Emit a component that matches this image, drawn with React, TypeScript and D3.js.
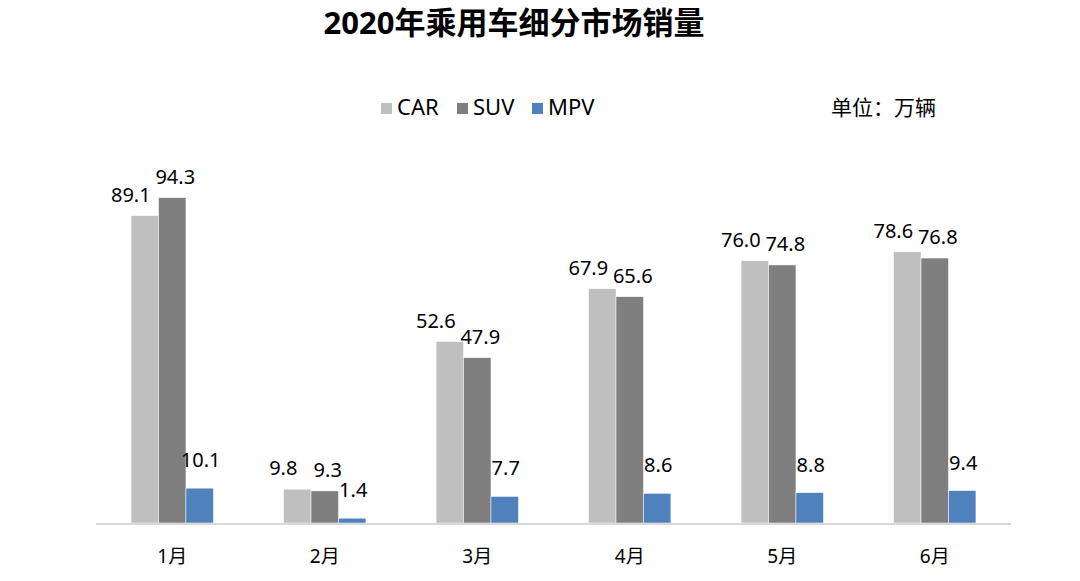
import React, { useEffect, useRef } from 'react';
import * as d3 from 'd3';

const months = ['1月', '2月', '3月', '4月', '5月', '6月'];
const seriesNames = ['CAR', 'SUV', 'MPV'];
const carValues = [89.1, 9.8, 52.6, 67.9, 76.0, 78.6];
const suvValues = [94.3, 9.3, 47.9, 65.6, 74.8, 76.8];
const mpvValues = [10.1, 1.4, 7.7, 8.6, 8.8, 9.4];
const colors = ['#bfbfbf', '#7f7f7f', '#4f81bd'];

const App = () => {
    const ref = useRef<SVGSVGElement>(null);
    const width = 1080;
    const height = 581;

    useEffect(() => {
        const svg = d3.select(ref.current);
        svg.selectAll('*').remove();
        const font = '"Noto Sans", "Noto Sans CJK SC", sans-serif';

        const x = d3.scaleBand().domain(months).range([96, 1011]).paddingInner(0.46).paddingOuter(0.23);
        const x1 = d3.scaleBand().domain(seriesNames).range([0, x.bandwidth()]);
        const y = d3.scaleLinear().domain([0, 100]).range([523, 178]);

        const values = [carValues, suvValues, mpvValues];
        // label nudges, the original has labels shifted by hand
        const labelDx = [-14, 3, 1];
        const labelDy = [-14, -14, -21];

        svg.append('text')
            .attr('x', 514)
            .attr('y', 34)
            .attr('text-anchor', 'middle')
            .style('font', `bold 31px ${font}`)
            .attr('fill', '#000')
            .text('2020年乘用车细分市场销量');

        // legend
        const legendX = [381, 457, 532];
        const legend = svg.append('g');
        seriesNames.forEach((name, i) => {
            legend.append('rect')
                .attr('x', legendX[i])
                .attr('y', 103)
                .attr('width', 11)
                .attr('height', 11)
                .attr('fill', colors[i]);
            legend.append('text')
                .attr('x', legendX[i] + 16)
                .attr('y', 115)
                .style('font', `22px ${font}`)
                .attr('fill', '#000')
                .text(name);
        });
        svg.append('text')
            .attr('x', 831)
            .attr('y', 115)
            .style('font', `21px ${font}`)
            .attr('fill', '#000')
            .text('单位：万辆');

        const groups = svg.append('g')
            .selectAll('g')
            .data(months)
            .enter()
            .append('g')
            .attr('transform', d => `translate(${x(d)},0)`);

        seriesNames.forEach((name, s) => {
            groups.append('rect')
                .attr('x', () => x1(name))
                .attr('y', (d, i) => y(values[s][i]))
                .attr('width', x1.bandwidth())
                .attr('height', (d, i) => y(0) - y(values[s][i]))
                .attr('fill', colors[s])
                .attr('stroke', '#fff')
                .attr('stroke-width', 0.5);
            groups.append('text')
                .attr('x', () => x1(name) + x1.bandwidth() / 2 + labelDx[s])
                .attr('y', (d, i) => y(values[s][i]) + labelDy[s])
                .attr('text-anchor', 'middle')
                .style('font', `20px ${font}`)
                .attr('fill', '#000')
                .text((d, i) => values[s][i].toFixed(1));
        });

        svg.append('line')
            .attr('x1', 96)
            .attr('x2', 1011)
            .attr('y1', y(0) + 1)
            .attr('y2', y(0) + 1)
            .attr('stroke', '#d9d9d9')
            .attr('stroke-width', 2);

        svg.append('g')
            .selectAll('text')
            .data(months)
            .enter()
            .append('text')
            .attr('x', d => x(d) + x.bandwidth() / 2)
            .attr('y', 563)
            .attr('text-anchor', 'middle')
            .style('font', `19px ${font}`)
            .attr('fill', '#000')
            .text(d => d);
    }, []);

    return (
        <svg
            ref={ref}
            width={width}
            height={height}
            style={{ position: 'absolute', left: 0, top: 0, background: '#fff' }}
        />
    );
};

export default App;
